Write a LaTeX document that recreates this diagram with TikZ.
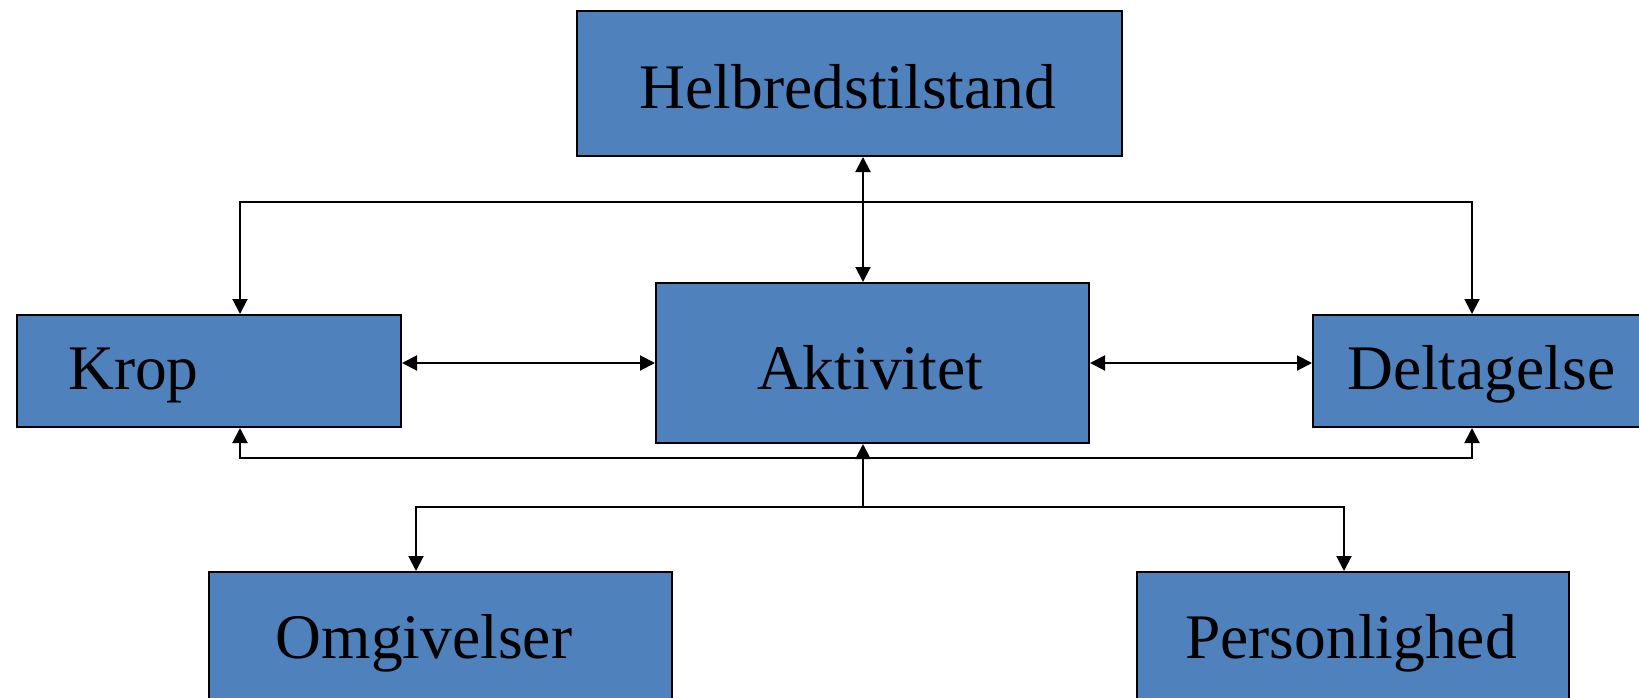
\documentclass[tikz,border=0pt]{standalone}
\usepackage{fontspec}
\setmainfont{Liberation Serif}
\usetikzlibrary{arrows.meta}
\definecolor{boxblue}{RGB}{79,129,189}
\tikzset{
  box/.style={draw=black, line width=2pt, fill=boxblue, rectangle, inner sep=0pt},
  lbl/.style={inner sep=0pt, font=\fontsize{63.5}{70}\selectfont, text=black},
  conn/.style={draw=black, line width=2pt, -{Triangle[length=15pt,width=15pt]}},
  dconn/.style={draw=black, line width=2pt, {Triangle[length=15pt,width=15pt]}-{Triangle[length=15pt,width=15pt]}}
}
\begin{document}
\begin{tikzpicture}[x=1pt,y=-1pt]
\useasboundingbox (0,0) rectangle (1639,697);
\clip (0,0) rectangle (1639,697);
\fill[white] (0,0) rectangle (1639,697);
% boxes
\node[box, anchor=north west, minimum width=545pt, minimum height=145pt] (helb) at (576,10) {};
\node[box, anchor=north west, minimum width=384pt, minimum height=112pt] (krop) at (16,314) {};
\node[box, anchor=north west, minimum width=433pt, minimum height=160pt] (akt) at (655,282) {};
\node[box, anchor=north west, minimum width=360pt, minimum height=112pt] (delt) at (1312,314) {};
\node[box, anchor=north west, minimum width=463pt, minimum height=160pt] (omg) at (208,571) {};
\node[box, anchor=north west, minimum width=432pt, minimum height=160pt] (pers) at (1136,571) {};
% texts
\node[lbl, anchor=base] (thelb) at (848,108) {Helbredstilstand};
\node[lbl, anchor=base west] (tkrop) at (68,389) {Krop};
\node[lbl, anchor=base] (takt) at (870,389) {Aktivitet};
\node[lbl, anchor=base west] (tdelt) at (1347,389) {Deltagelse};
\node[lbl, anchor=base] (tomg) at (424,658) {Omgivelser};
\node[lbl, anchor=base] (tpers) at (1351,658) {Personlighed};
% helper coordinates
\coordinate (vx) at (863,0);
\coordinate (kx) at (240,0);
\coordinate (dx) at (1472,0);
\coordinate (ox) at (416,0);
\coordinate (px) at (1344,0);
\coordinate (hy) at (0,363);
\coordinate (jt) at (863,202);
\coordinate (jb) at (863,458);
\coordinate (jc) at (863,507);
% connectors
\draw[dconn] (vx |- helb.south) -- (vx |- akt.north);
\draw[conn] (jt) -| (kx |- krop.north);
\draw[conn] (jt) -| (dx |- delt.north);
\draw[dconn] (krop.east |- hy) -- (akt.west |- hy);
\draw[dconn] (akt.east |- hy) -- (delt.west |- hy);
\draw[conn] (jb) -| (kx |- krop.south);
\draw[conn] (jb) -| (dx |- delt.south);
\draw[conn] (jc) -- (vx |- akt.south);
\draw[conn] (jc) -| (ox |- omg.north);
\draw[conn] (jc) -| (px |- pers.north);
\end{tikzpicture}
\end{document}
